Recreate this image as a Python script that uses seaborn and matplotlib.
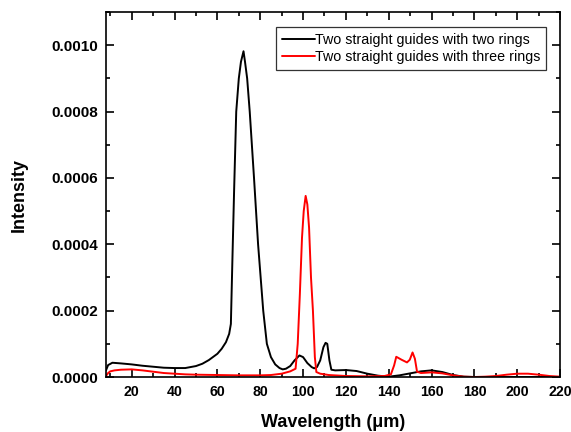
import numpy as np
import pandas as pd
import matplotlib
matplotlib.use("Agg")
import matplotlib.pyplot as plt
import seaborn as sns
from matplotlib.ticker import MultipleLocator, FormatStrFormatter
from matplotlib.lines import Line2D

# Spectrum: two straight guides with two rings
wl_two = [8, 9, 11, 15, 20, 25, 30, 35, 40, 45, 50, 53, 56, 60, 62, 64, 65.5, 66.3,
          67, 67.8, 68.8, 70, 71, 72.2, 72.9, 73.9, 75.1, 77.1, 79.0, 81.4, 83.1, 85,
          87, 89, 90.5, 92, 94, 96, 98.3, 100, 102, 104, 105.2, 106.5, 108, 109.5,
          110.5, 111.3, 112.3, 113.2, 115, 120, 125, 130, 135, 140, 145, 150, 155,
          160, 165, 170, 175, 180, 190, 200, 210, 220]
int_two = [0.000020, 0.000036, 0.000043, 0.000041, 0.000038, 0.000034, 0.000031,
           0.000028, 0.000027, 0.000027, 0.000033, 0.000040, 0.000051, 0.000070,
           0.000085, 0.000105, 0.000130, 0.000160, 0.000350, 0.000560, 0.000800,
           0.000900, 0.000950, 0.000982, 0.000950, 0.000900, 0.000800, 0.000600,
           0.000400, 0.000200, 0.000100, 0.000060, 0.000038, 0.000027, 0.000023,
           0.000025, 0.000033, 0.000050, 0.000065, 0.000060, 0.000042, 0.000030,
           0.000026, 0.000030, 0.000050, 0.000090, 0.000103, 0.000100, 0.000050,
           0.000022, 0.000020, 0.000021, 0.000018, 0.000010, 0.000004, 0.000001,
           0.000005, 0.000011, 0.000017, 0.000020, 0.000015, 0.000006, 0.000001,
           0.0, 0.0, 0.0, 0.0, 0.0]

# Spectrum: two straight guides with three rings
wl_three = [8, 9, 10, 12, 15, 20, 25, 30, 35, 40, 45, 50, 60, 70, 80, 85, 90, 94,
            96.5, 97.5, 98.5, 99.5, 100.3, 101.2, 102, 102.8, 103.7, 104.6, 105.5,
            106.2, 108, 112, 120, 130, 138, 141, 142.5, 143.5, 146, 148.5, 149.8,
            151.1, 152.2, 153.2, 155, 160, 165, 170, 175, 180, 185, 190, 195, 200,
            205, 210, 215, 220]
int_three = [0.000003, 0.000012, 0.000017, 0.000020, 0.000022, 0.000023, 0.000020,
             0.000016, 0.000012, 0.000010, 0.000008, 0.000007, 0.000006, 0.000005,
             0.000005, 0.000006, 0.000010, 0.000017, 0.000025, 0.000100, 0.000250,
             0.000420, 0.000500, 0.000546, 0.000520, 0.000450, 0.000300, 0.000200,
             0.000060, 0.000015, 0.000010, 0.000006, 0.000003, 0.000002, 0.000003,
             0.000008, 0.000035, 0.000061, 0.000052, 0.000044, 0.000052, 0.000074,
             0.000055, 0.000016, 0.000012, 0.000014, 0.000011, 0.000005, 0.000001,
             0.0, 0.000001, 0.000003, 0.000007, 0.000010, 0.000010, 0.000007,
             0.000003, 0.000001]

label_two = "Two straight guides with two rings"
label_three = "Two straight guides with three rings"

df = pd.concat([
    pd.DataFrame({"Wavelength": wl_two, "Intensity": int_two, "Series": label_two}),
    pd.DataFrame({"Wavelength": wl_three, "Intensity": int_three, "Series": label_three}),
], ignore_index=True)

sns.set_style("ticks")
plt.rcParams["font.family"] = ["Liberation Sans", "DejaVu Sans"]
for key in ("text.color", "axes.labelcolor", "xtick.color", "ytick.color",
            "axes.edgecolor"):
    plt.rcParams[key] = "black"

fig = plt.figure(figsize=(5.71, 4.32), dpi=100)
ax = fig.add_axes([0.1856, 0.1273, 0.7954, 0.8447])

colors = {label_two: "black", label_three: "#ff0000"}
sns.lineplot(data=df, x="Wavelength", y="Intensity", hue="Series",
             palette=colors, sort=False, estimator=None, linewidth=1.4,
             legend=False, ax=ax)

ax.set_xlim(8, 220)
ax.set_ylim(0, 0.0011)

ax.xaxis.set_major_locator(MultipleLocator(20))
ax.xaxis.set_minor_locator(MultipleLocator(10))
ax.yaxis.set_major_locator(MultipleLocator(0.0002))
ax.yaxis.set_minor_locator(MultipleLocator(0.0001))
ax.yaxis.set_major_formatter(FormatStrFormatter("%.4f"))

ax.tick_params(which="both", direction="in", top=True, right=True, width=1.2)
ax.tick_params(which="major", length=5.5, pad=5.5)
ax.tick_params(which="minor", length=3)
ax.tick_params(axis="x", labelsize=10.2)
ax.tick_params(axis="y", labelsize=11)
for lbl in ax.get_xticklabels() + ax.get_yticklabels():
    lbl.set_fontweight("bold")
for sp in ax.spines.values():
    sp.set_linewidth(1.2)
    sp.set_visible(True)

ax.set_xlabel("Wavelength (\u03bcm)", fontsize=13, fontweight="bold", labelpad=11)
ax.set_ylabel("Intensity", fontsize=13, fontweight="bold", labelpad=17)

handles = [Line2D([], [], color="black", lw=1.4),
           Line2D([], [], color="#ff0000", lw=1.4)]
leg = ax.legend(handles, [label_two, label_three], loc="upper right",
                bbox_to_anchor=(0.968, 0.958), fontsize=10.3, frameon=True,
                fancybox=False, edgecolor="black", handlelength=2.3,
                handletextpad=0.0, borderpad=0.4, labelspacing=0.2,
                borderaxespad=0.0)
leg.get_frame().set_linewidth(0.9)

fig.savefig("out.png", dpi=100)
